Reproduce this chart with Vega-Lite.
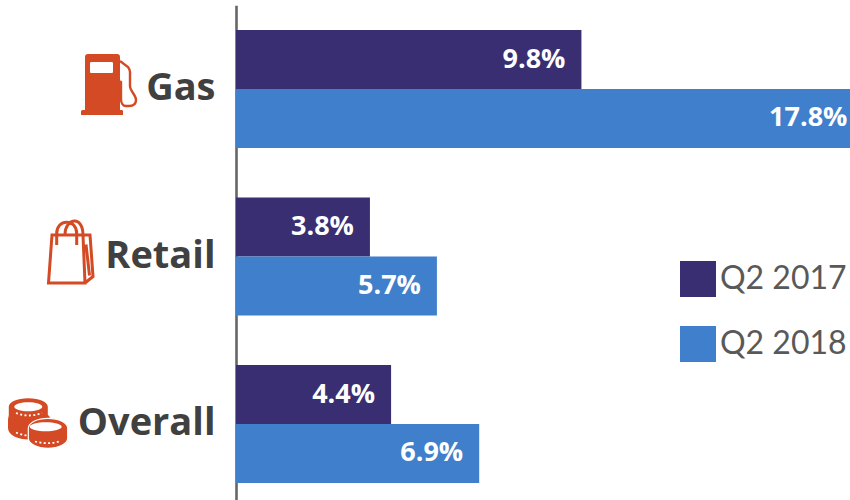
{
  "$schema": "https://vega.github.io/schema/vega-lite/v6.json",
  "width": 614,
  "height": 500,
  "autosize": {"type": "none"},
  "padding": {"left": 236, "top": 0, "right": 0, "bottom": 0},
  "background": "white",
  "config": {"view": {"stroke": null}, "font": "Lato"},
  "data": {
    "values": [
      {"category": "Gas", "period": "Q2 2017", "value": 9.8, "label": "9.8%"},
      {"category": "Gas", "period": "Q2 2018", "value": 17.8, "label": "17.8%"},
      {"category": "Retail", "period": "Q2 2017", "value": 3.8, "label": "3.8%"},
      {"category": "Retail", "period": "Q2 2018", "value": 5.7, "label": "5.7%"},
      {"category": "Overall", "period": "Q2 2017", "value": 4.4, "label": "4.4%"},
      {"category": "Overall", "period": "Q2 2018", "value": 6.9, "label": "6.9%"}
    ]
  },
  "encoding": {
    "y": {
      "field": "category",
      "type": "nominal",
      "title": null,
      "sort": ["Gas", "Retail", "Overall"],
      "scale": {"domain": ["Gas", "Retail", "Overall"], "range": [5.25, 507.75], "paddingInner": 0.296, "paddingOuter": 0.148},
      "axis": {
        "ticks": false,
        "grid": false,
        "domain": true,
        "domainColor": "#666666",
        "domainWidth": 2.6,
        "labelFont": "Open Sans",
        "labelFontWeight": "bold",
        "labelFontSize": 38,
        "labelColor": "#404040",
        "labelPadding": 21,
        "labelLimit": 300
      }
    }
  },
  "layer": [
    {
      "mark": {"type": "bar", "clip": true},
      "encoding": {
        "x": {
          "field": "value",
          "type": "quantitative",
          "axis": null,
          "scale": {"domain": [0, 17.42], "nice": false, "zero": true}
        },
        "yOffset": {"field": "period", "type": "nominal", "sort": ["Q2 2017", "Q2 2018"]},
        "color": {
          "field": "period",
          "type": "nominal",
          "title": null,
          "scale": {"domain": ["Q2 2017", "Q2 2018"], "range": ["#392E72", "#3F7FCB"]},
          "legend": {
            "orient": "none",
            "legendX": 444,
            "legendY": 261,
            "symbolType": "square",
            "symbolSize": 1296,
            "symbolStrokeWidth": 0,
            "symbolOpacity": 1,
            "labelFont": "Lato",
            "labelFontSize": 32,
            "labelColor": "#595959",
            "labelOffset": 4,
            "rowPadding": 29,
            "labelLimit": 300
          }
        }
      }
    },
    {
      "mark": {"type": "text", "align": "right", "baseline": "middle", "dx": -16, "font": "Open Sans", "fontWeight": "bold", "fontSize": 27, "color": "white"},
      "encoding": {
        "x": {"field": "value", "type": "quantitative"},
        "yOffset": {"field": "period", "type": "nominal", "sort": ["Q2 2017", "Q2 2018"]},
        "text": {"field": "label", "type": "nominal"}
      }
    },
    {
      "data": {"values": [{"category": "Gas"}]},
      "mark": {
        "type": "point", "filled": true, "opacity": 1, "size": 4, "color": "#D34A24", "strokeWidth": 0,
        "shape": "M-151 -32 C-151 -34 -150 -35 -148 -35 L-119 -35 C-117 -35 -116 -34 -116 -32 L-116 21 L-114 21 C-113 21 -113 22 -113 23 L-113 26 L-155 26 L-155 23 C-155 22 -155 21 -153 21 L-151 21 Z M-145 -27 C-146 -27 -146 -26 -146 -25 L-146 -18 C-146 -17 -146 -16 -145 -16 L-124 -16 C-123 -16 -123 -17 -123 -18 L-123 -25 C-123 -26 -123 -27 -124 -27 Z"
      },
      "encoding": {"x": {"datum": 0}}
    },
    {
      "data": {"values": [{"category": "Gas"}]},
      "mark": {
        "type": "point", "filled": false, "opacity": 1, "size": 4, "color": "#D34A24", "strokeWidth": 2.4,
        "shape": "M-116 -28 L-108 -22 C-106.5 -20 -106 -19 -106 -17 L-106 -3 C-106 2 -100 6 -100 11 C-100 16 -103 17 -107 17 L-110 17 C-113 17 -115 14 -115 10 L-115 -7 L-116 -8"
      },
      "encoding": {"x": {"datum": 0}}
    },
    {
      "data": {"values": [{"category": "Retail"}]},
      "mark": {
        "type": "point", "filled": false, "opacity": 1, "size": 4, "color": "#D34A24", "strokeWidth": 3,
        "shape": "M-184 -21.5 L-153 -21.5 L-151 26.5 L-187.5 26.5 Z M-153 -21.5 L-146 -21.5 L-143 20 L-151 26.5 M-150 -12 L-146.5 19 M-179.3 -11.5 L-179.3 -23 C-179.3 -38 -159.3 -38 -159.3 -23 L-159.3 -11.5 M-171 -22 C-171 -38 -153 -42 -153 -21.5"
      },
      "encoding": {"x": {"datum": 0}}
    },
    {
      "data": {"values": [{"category": "Overall"}]},
      "mark": {
        "type": "point", "filled": true, "opacity": 1, "size": 4, "color": "#D34A24", "strokeWidth": 0,
        "shape": "M-227.2 -17.3 C-227.2 -22 -219 -25.8 -207.7 -25.8 C-196.4 -25.8 -188.2 -22 -188.2 -17.3 L-188.2 -9 C-186 -8 -186 -6 -186 -4 L-186 4 C-186 11 -196 15.5 -207 15.5 C-218 15.5 -228 11 -228 4 L-228 -4 C-228 -6 -227.2 -8 -227.2 -9 Z"
      },
      "encoding": {"x": {"datum": 0}}
    },
    {
      "data": {"values": [{"category": "Overall"}]},
      "mark": {
        "type": "point", "filled": true, "opacity": 1, "size": 4, "color": "#D34A24", "stroke": "white", "strokeWidth": 1.2,
        "shape": "M-207.7 4.3 C-207.7 -1.2 -199 -5.7 -188 -5.7 C-177 -5.7 -168.3 -1.2 -168.3 4.3 L-168.3 14.3 C-168.3 19.8 -177 24.3 -188 24.3 C-199 24.3 -207.7 19.8 -207.7 14.3 Z"
      },
      "encoding": {"x": {"datum": 0}}
    },
    {
      "data": {"values": [{"category": "Overall"}]},
      "mark": {
        "type": "point", "filled": true, "opacity": 1, "size": 4, "color": "white", "strokeWidth": 0,
        "shape": "M-221.7 -17.3 C-221.7 -20 -215 -21.8 -207.7 -21.8 C-200.4 -21.8 -193.7 -20 -193.7 -17.3 C-193.7 -14.6 -200.4 -12.8 -207.7 -12.8 C-215 -12.8 -221.7 -14.6 -221.7 -17.3 Z M-206.3 2.7 C-206.3 0 -198.5 -1.8 -190.3 -1.8 C-182.1 -1.8 -174.3 0 -174.3 2.7 C-174.3 5.4 -182.1 7.2 -190.3 7.2 C-198.5 7.2 -206.3 5.4 -206.3 2.7 Z"
      },
      "encoding": {"x": {"datum": 0}}
    },
    {
      "data": {"values": [{"category": "Overall"}]},
      "mark": {
        "type": "point", "filled": false, "opacity": 1, "size": 4, "color": "white", "strokeWidth": 1.8, "strokeDash": [2, 2.4],
        "shape": "M-220 -11 Q-207.7 -6 -194 -11 M-220 8.5 Q-214 11 -208 11.5 M-201 17.5 Q-188 21 -175 17"
      },
      "encoding": {"x": {"datum": 0}}
    }
  ]
}
